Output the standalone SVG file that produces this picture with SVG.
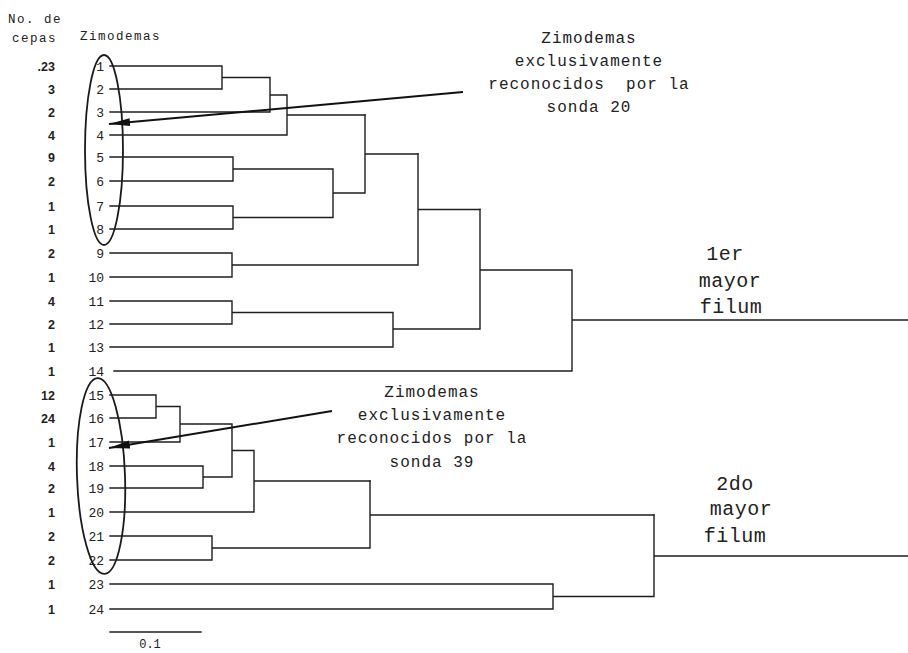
<svg xmlns="http://www.w3.org/2000/svg" width="908" height="653" viewBox="0 0 908 653">
<style>
.bg{fill:#ffffff}
.ln{fill:none;stroke:#1e1e1e;stroke-width:1.4;stroke-linecap:square}
.ar{fill:none;stroke:#111;stroke-width:2}
.cep{font-family:"Liberation Sans",Arial,sans-serif;font-size:12.5px;fill:#222;text-anchor:end;font-weight:bold}
.lf{font-family:"Liberation Mono","DejaVu Sans Mono",monospace;font-size:13px;fill:#222;text-anchor:end}
.hd{font-family:"Liberation Mono","DejaVu Sans Mono",monospace;font-size:12.5px;fill:#222;letter-spacing:1.5px}
.an{font-family:"Liberation Mono","DejaVu Sans Mono",monospace;font-size:16px;fill:#222;text-anchor:middle;letter-spacing:1px}
.fl{font-family:"Liberation Mono","DejaVu Sans Mono",monospace;font-size:20px;fill:#222;text-anchor:middle;letter-spacing:0.5px}
.el{fill:none;stroke:#1a1a1a;stroke-width:1.8}
</style>
<defs>
<marker id="ah" markerWidth="22" markerHeight="10" refX="21" refY="5" orient="auto" markerUnits="userSpaceOnUse">
<path d="M0,1 L21,5 L0,9 Z" fill="#111"/>
</marker>
</defs>
<rect class="bg" x="0" y="0" width="908" height="653"/>

<g id="headers">
<text class="hd" x="8" y="23">No. de</text>
<text class="hd" x="12" y="42">cepas</text>
<text class="hd" x="80" y="40">Zimodemas</text>
</g>

<g id="leaf1"><text class="cep" x="55" y="71">.23</text><text class="lf" x="104" y="71">1</text></g>
<g id="leaf2"><text class="cep" x="55" y="94">3</text><text class="lf" x="104" y="94">2</text></g>
<g id="leaf3"><text class="cep" x="55" y="117">2</text><text class="lf" x="104" y="117">3</text></g>
<g id="leaf4"><text class="cep" x="55" y="140">4</text><text class="lf" x="104" y="140">4</text></g>
<g id="leaf5"><text class="cep" x="55" y="162">9</text><text class="lf" x="104" y="162">5</text></g>
<g id="leaf6"><text class="cep" x="55" y="186">2</text><text class="lf" x="104" y="186">6</text></g>
<g id="leaf7"><text class="cep" x="55" y="211">1</text><text class="lf" x="104" y="211">7</text></g>
<g id="leaf8"><text class="cep" x="55" y="234">1</text><text class="lf" x="104" y="234">8</text></g>
<g id="leaf9"><text class="cep" x="55" y="258">2</text><text class="lf" x="104" y="258">9</text></g>
<g id="leaf10"><text class="cep" x="55" y="282">1</text><text class="lf" x="104" y="282">10</text></g>
<g id="leaf11"><text class="cep" x="55" y="306">4</text><text class="lf" x="104" y="306">11</text></g>
<g id="leaf12"><text class="cep" x="55" y="329">2</text><text class="lf" x="104" y="329">12</text></g>
<g id="leaf13"><text class="cep" x="55" y="352">1</text><text class="lf" x="104" y="352">13</text></g>
<g id="leaf14"><text class="cep" x="55" y="376">1</text><text class="lf" x="104" y="376">14</text></g>
<g id="leaf15"><text class="cep" x="55" y="400">12</text><text class="lf" x="104" y="400">15</text></g>
<g id="leaf16"><text class="cep" x="55" y="423">24</text><text class="lf" x="104" y="423">16</text></g>
<g id="leaf17"><text class="cep" x="55" y="447">1</text><text class="lf" x="104" y="447">17</text></g>
<g id="leaf18"><text class="cep" x="55" y="471">4</text><text class="lf" x="104" y="471">18</text></g>
<g id="leaf19"><text class="cep" x="55" y="493">2</text><text class="lf" x="104" y="493">19</text></g>
<g id="leaf20"><text class="cep" x="55" y="517">1</text><text class="lf" x="104" y="517">20</text></g>
<g id="leaf21"><text class="cep" x="55" y="541">2</text><text class="lf" x="104" y="541">21</text></g>
<g id="leaf22"><text class="cep" x="55" y="565">2</text><text class="lf" x="104" y="565">22</text></g>
<g id="leaf23"><text class="cep" x="55" y="589">1</text><text class="lf" x="104" y="589">23</text></g>
<g id="leaf24"><text class="cep" x="55" y="614">1</text><text class="lf" x="104" y="614">24</text></g>

<g id="group-probe20"><ellipse class="el" cx="104" cy="150" rx="19" ry="95"/></g>
<g id="group-probe39"><ellipse class="el" cx="101" cy="476" rx="24" ry="98" transform="rotate(-2 101 476)"/></g>

<g id="connectors">
<path class="ln" d="M110,66 H222 V89 H110 M222,77.5 H270 M110,112 H270 V77.5 M270,95 H287 M110,135 H287 V95 M287,115 H365"/>
<path class="ln" d="M110,157 H233 V181 H110 M110,206 H233 V229 H110 M233,169 H333 V217.5 H233 M333,193 H365 V115 M365,154 H418"/>
<path class="ln" d="M110,253 H232 V277 H110 M232,265 H418 V154 M418,209.5 H480"/>
<path class="ln" d="M110,301 H232 V324 H110 M232,312.5 H393 V347 H110 M393,329 H480 V209.5 M480,270 H572 V371 H114 M572,320 H908"/>
<path class="ln" d="M110,395 H156 V418 H110 M156,406.5 H180 V442 H110 M180,424 H232 M110,466 H203 V488 H110 M203,477 H232 V424 M232,450.5 H254 V512 H110 M254,481 H370"/>
<path class="ln" d="M110,536 H212 V560 H110 M212,548 H370 V481 M370,515 H654"/>
<path class="ln" d="M110,584 H553 V609 H110 M553,596.5 H654 V515 M654,556 H908"/>
<line class="ar" x1="463" y1="92" x2="109" y2="124" marker-end="url(#ah)"/>
<line class="ar" x1="332" y1="411" x2="109" y2="448" marker-end="url(#ah)"/>
</g>

<g id="note-sonda20">
<text class="an" x="589" y="43">Zimodemas</text>
<text class="an" x="589" y="66">exclusivamente</text>
<text class="an" x="589" y="89" xml:space="preserve">reconocidos  por la</text>
<text class="an" x="589" y="112">sonda 20</text>
</g>
<g id="note-sonda39">
<text class="an" x="432" y="397">Zimodemas</text>
<text class="an" x="432" y="420">exclusivamente</text>
<text class="an" x="432" y="443">reconocidos por la</text>
<text class="an" x="432" y="467">sonda 39</text>
</g>
<g id="filum1">
<text class="fl" x="725" y="260">1er</text>
<text class="fl" x="730" y="287">mayor</text>
<text class="fl" x="731" y="313">filum</text>
</g>
<g id="filum2">
<text class="fl" x="735" y="490">2do</text>
<text class="fl" x="741" y="515">mayor</text>
<text class="fl" x="735" y="542">filum</text>
</g>
<g id="scale">
<line class="ln" x1="110" y1="632" x2="201" y2="632"/>
<text class="lf" x="150" y="648" style="text-anchor:middle;font-size:12px">0.1</text>
</g>
</svg>
